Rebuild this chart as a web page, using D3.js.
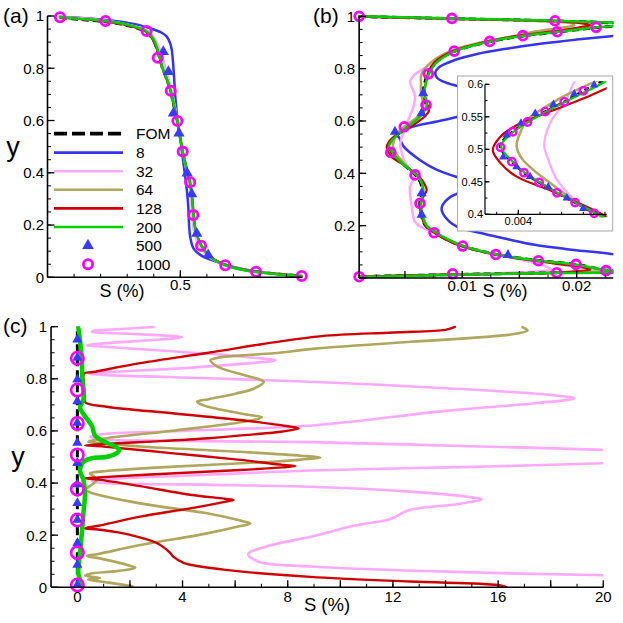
<!DOCTYPE html>
<html><head><meta charset="utf-8">
<script src="https://cdn.jsdelivr.net/npm/d3@7"></script>
<style>body{margin:0;background:#fff} svg{display:block} text{font-family:"Liberation Sans",Arial,sans-serif;fill:#000}</style>
</head><body><svg id="c" width="623" height="623"></svg>
<script>
// ---------- legend / series ----------
const seriesLabels = ["FOM","8","32","64","128","200","500","1000"];

// ---------- panel (a): [S (%), y] ----------
const aFOM = [[0.047,0.993],[0.120,0.986],[0.218,0.977],[0.300,0.963],[0.350,0.948],[0.373,0.938],[0.395,0.912],[0.410,0.878],[0.420,0.845],[0.432,0.800],[0.448,0.758],[0.462,0.714],[0.474,0.660],[0.488,0.598],[0.498,0.540],[0.508,0.481],[0.522,0.420],[0.535,0.364],[0.544,0.300],[0.549,0.238],[0.557,0.180],[0.578,0.121],[0.610,0.080],[0.670,0.047],[0.752,0.027],[0.862,0.014],[0.957,0.006]];
const a8 = [[0.047,0.997],[0.218,0.985],[0.330,0.969],[0.392,0.951],[0.430,0.936],[0.449,0.921],[0.462,0.895],[0.468,0.870],[0.472,0.830],[0.475,0.790],[0.478,0.740],[0.482,0.680],[0.490,0.600],[0.500,0.530],[0.510,0.450],[0.519,0.380],[0.526,0.320],[0.530,0.270],[0.533,0.200],[0.538,0.150],[0.550,0.110],[0.578,0.084],[0.640,0.058],[0.700,0.040],[0.800,0.020],[0.957,0.004]];
const a32 = [[0.047,0.996],[0.218,0.982],[0.330,0.960],[0.385,0.938],[0.408,0.905],[0.424,0.870],[0.436,0.830],[0.450,0.780],[0.465,0.725],[0.477,0.665],[0.490,0.600],[0.500,0.540],[0.509,0.481],[0.521,0.420],[0.533,0.364],[0.541,0.300],[0.545,0.238],[0.551,0.180],[0.569,0.124],[0.601,0.084],[0.662,0.049],[0.752,0.025],[0.862,0.012],[0.957,0.005]];
const a64 = [[0.047,0.995],[0.218,0.980],[0.300,0.966],[0.372,0.941],[0.396,0.913],[0.411,0.879],[0.421,0.845],[0.433,0.800],[0.449,0.758],[0.463,0.714],[0.475,0.660],[0.489,0.598],[0.499,0.540],[0.509,0.481],[0.523,0.420],[0.536,0.364],[0.545,0.300],[0.550,0.238],[0.558,0.180],[0.579,0.121],[0.611,0.080],[0.670,0.047],[0.752,0.026],[0.862,0.013],[0.957,0.005]];
const a128 = [[0.047,0.995],[0.218,0.979],[0.300,0.965],[0.371,0.940],[0.395,0.912],[0.410,0.878],[0.421,0.845],[0.433,0.800],[0.449,0.758],[0.463,0.714],[0.475,0.660],[0.489,0.598],[0.499,0.540],[0.509,0.481],[0.523,0.420],[0.536,0.364],[0.545,0.300],[0.550,0.238],[0.558,0.180],[0.580,0.121],[0.612,0.080],[0.671,0.047],[0.753,0.026],[0.862,0.013],[0.957,0.005]];
const a200 = [[0.047,0.996],[0.120,0.989],[0.218,0.981],[0.300,0.967],[0.350,0.952],[0.373,0.942],[0.397,0.915],[0.412,0.880],[0.422,0.845],[0.434,0.800],[0.450,0.758],[0.464,0.714],[0.476,0.660],[0.489,0.598],[0.499,0.540],[0.509,0.481],[0.523,0.420],[0.537,0.364],[0.545,0.300],[0.550,0.238],[0.558,0.180],[0.579,0.121],[0.611,0.080],[0.670,0.046],[0.752,0.025],[0.862,0.012],[0.957,0.005]];
const a500 = [[0.436,0.863],[0.455,0.787],[0.474,0.628],[0.495,0.551],[0.526,0.398],[0.543,0.319],[0.562,0.168],[0.605,0.085]];
const a1000 = [[0.047,0.995],[0.218,0.981],[0.373,0.943],[0.415,0.840],[0.464,0.714],[0.489,0.598],[0.509,0.481],[0.537,0.364],[0.549,0.238],[0.578,0.121],[0.669,0.046],[0.785,0.021],[0.957,0.005]];

// ---------- panel (b) + inset: [S (%), y] ----------
const bFOM = [[0.0010,0.999],[0.0091,0.991],[0.0181,0.982],[0.0250,0.969],[0.0217,0.957],[0.0183,0.940],[0.0153,0.925],[0.0124,0.903],[0.0093,0.866],[0.0077,0.825],[0.0070,0.780],[0.0067,0.740],[0.0066,0.706],[0.0068,0.661],[0.0065,0.630],[0.0059,0.604],[0.0055,0.590],[0.00506,0.573],[0.00462,0.558],[0.00421,0.542],[0.00387,0.527],[0.00358,0.505],[0.00385,0.481],[0.00413,0.464],[0.00448,0.449],[0.00489,0.433],[0.00531,0.418],[0.00575,0.402],[0.0061,0.385],[0.0064,0.360],[0.0065,0.330],[0.0063,0.285],[0.0064,0.245],[0.0068,0.200],[0.00757,0.176],[0.0084,0.153],[0.0100,0.123],[0.0129,0.091],[0.0166,0.067],[0.0199,0.052],[0.0226,0.030],[0.0250,0.024],[0.0182,0.020],[0.0092,0.013],[0.0010,0.005]];
const b8 = [[0.0010,0.999],[0.0091,0.991],[0.0181,0.982],[0.0260,0.970],[0.0300,0.950],[0.0232,0.925],[0.0200,0.911],[0.0170,0.896],[0.0140,0.877],[0.0113,0.856],[0.0093,0.832],[0.0080,0.806],[0.00765,0.785],[0.0078,0.765],[0.0083,0.751],[0.0089,0.742],[0.0096,0.733],[0.0118,0.700],[0.0118,0.640],[0.0096,0.616],[0.0078,0.598],[0.0063,0.585],[0.0050,0.568],[0.00435,0.556],[0.0042,0.551],[0.0045,0.536],[0.0049,0.502],[0.0063,0.451],[0.0078,0.413],[0.0096,0.385],[0.0118,0.360],[0.0118,0.335],[0.0096,0.323],[0.0085,0.292],[0.0082,0.266],[0.0085,0.234],[0.0095,0.197],[0.0118,0.170],[0.0140,0.148],[0.0162,0.128],[0.0190,0.111],[0.0232,0.091],[0.0300,0.050],[0.0260,0.024],[0.0182,0.020],[0.0092,0.013],[0.0010,0.005]];
const b32 = [[0.0010,0.999],[0.0091,0.991],[0.0181,0.982],[0.0250,0.969],[0.0217,0.957],[0.0183,0.940],[0.0153,0.925],[0.0124,0.904],[0.0093,0.867],[0.0077,0.826],[0.0066,0.800],[0.0058,0.775],[0.00544,0.748],[0.0057,0.720],[0.00588,0.693],[0.0058,0.665],[0.00559,0.636],[0.0053,0.605],[0.00508,0.573],[0.00477,0.545],[0.00462,0.519],[0.0046,0.503],[0.00469,0.484],[0.00485,0.458],[0.00508,0.437],[0.00535,0.419],[0.0057,0.400],[0.0058,0.385],[0.00544,0.349],[0.0055,0.300],[0.00559,0.272],[0.00588,0.215],[0.0066,0.190],[0.0075,0.175],[0.0084,0.152],[0.0100,0.121],[0.0130,0.089],[0.0155,0.066],[0.0172,0.046],[0.0178,0.033],[0.0165,0.025],[0.0092,0.014],[0.0010,0.005]];
const b64 = [[0.0010,0.999],[0.0090,0.991],[0.0175,0.981],[0.0196,0.972],[0.0198,0.966],[0.0188,0.957],[0.0165,0.943],[0.0150,0.928],[0.0122,0.906],[0.0090,0.868],[0.0073,0.825],[0.00646,0.782],[0.0064,0.740],[0.0064,0.706],[0.0066,0.661],[0.0063,0.630],[0.0060,0.612],[0.00556,0.598],[0.0050,0.580],[0.00455,0.562],[0.0042,0.545],[0.00404,0.525],[0.00396,0.505],[0.00408,0.486],[0.00435,0.468],[0.0047,0.450],[0.0050,0.435],[0.00535,0.418],[0.00578,0.402],[0.0062,0.385],[0.0065,0.360],[0.0066,0.330],[0.0064,0.285],[0.0065,0.245],[0.0069,0.200],[0.0077,0.175],[0.0086,0.150],[0.0102,0.121],[0.0130,0.090],[0.0166,0.065],[0.0199,0.050],[0.0220,0.034],[0.0224,0.028],[0.0210,0.023],[0.0182,0.020],[0.0092,0.013],[0.0010,0.005]];
const b128 = [[0.0010,0.999],[0.0091,0.991],[0.0180,0.981],[0.0206,0.972],[0.0212,0.966],[0.0204,0.959],[0.0182,0.944],[0.0152,0.928],[0.0123,0.905],[0.0092,0.867],[0.0076,0.825],[0.0070,0.780],[0.0068,0.740],[0.0067,0.706],[0.0069,0.670],[0.0071,0.640],[0.0068,0.620],[0.0063,0.602],[0.00604,0.594],[0.0055,0.578],[0.00473,0.558],[0.00396,0.537],[0.00358,0.519],[0.00341,0.499],[0.0036,0.478],[0.00396,0.458],[0.00473,0.437],[0.0053,0.420],[0.00593,0.400],[0.0063,0.385],[0.0067,0.360],[0.0069,0.336],[0.0066,0.310],[0.0063,0.285],[0.0064,0.245],[0.0068,0.200],[0.0075,0.176],[0.0083,0.153],[0.0099,0.122],[0.0128,0.090],[0.0163,0.066],[0.0193,0.048],[0.0209,0.037],[0.0212,0.032],[0.0200,0.026],[0.0182,0.020],[0.0092,0.013],[0.0010,0.005]];
const b200 = [[0.0010,1.000],[0.0091,0.992],[0.0181,0.983],[0.0250,0.970],[0.0218,0.958],[0.0184,0.941],[0.0154,0.926],[0.0125,0.904],[0.0094,0.867],[0.0078,0.825],[0.0071,0.780],[0.0068,0.740],[0.0067,0.706],[0.0069,0.661],[0.0066,0.630],[0.0060,0.604],[0.0056,0.590],[0.00508,0.573],[0.00464,0.558],[0.00423,0.542],[0.00389,0.527],[0.0036,0.505],[0.00387,0.481],[0.00415,0.464],[0.0045,0.449],[0.00491,0.433],[0.00533,0.418],[0.00577,0.402],[0.0062,0.385],[0.0065,0.360],[0.0066,0.330],[0.0064,0.285],[0.0065,0.245],[0.0069,0.200],[0.00765,0.176],[0.0085,0.153],[0.0101,0.122],[0.0130,0.090],[0.0167,0.066],[0.0200,0.051],[0.0227,0.029],[0.0250,0.023],[0.0182,0.019],[0.0092,0.012],[0.0010,0.004]];
const b500 = [[0.0066,0.706],[0.00646,0.629],[0.00413,0.559],[0.00646,0.324],[0.00646,0.241],[0.0140,0.088]];
const b1000 = [[0.0010,1.000],[0.0091,0.992],[0.0181,0.983],[0.0217,0.958],[0.0183,0.941],[0.0153,0.926],[0.0124,0.904],[0.0093,0.867],[0.00704,0.780],[0.00684,0.661],[0.00494,0.578],[0.00376,0.480],[0.00588,0.394],[0.00631,0.285],[0.00754,0.173],[0.01004,0.122],[0.01293,0.090],[0.01665,0.066],[0.01994,0.052],[0.02256,0.028],[0.01825,0.020],[0.00917,0.016],[0.0010,0.005]];
const inset500 = [[0.00575,0.599],[0.00529,0.585],[0.00481,0.569],[0.00439,0.555],[0.00406,0.540],[0.00373,0.522],[0.00365,0.488],[0.00396,0.473],[0.00427,0.458],[0.00469,0.442],[0.00512,0.425],[0.0055,0.409]];
const inset1000 = [[0.00575,0.4015],[0.00531,0.418],[0.00489,0.433],[0.00448,0.449],[0.00413,0.464],[0.00385,0.481],[0.00359,0.503],[0.00387,0.527],[0.00421,0.542],[0.00462,0.558],[0.00506,0.573],[0.0055,0.590]];

// ---------- panel (c): [S (%), y] ----------
const cFOM = [[0,0],[0,1]];
const c32 = [[2.90,0.999],[1.5,0.990],[0.6,0.984],[0.55,0.980],[1.5,0.975],[3.98,0.960],[3.0,0.950],[1.0,0.936],[0.36,0.929],[1.0,0.923],[4.99,0.896],[6.8,0.880],[7.53,0.871],[6.8,0.862],[3.72,0.839],[1.0,0.825],[0.42,0.820],[1.0,0.815],[5.0,0.802],[9.05,0.788],[14.0,0.764],[18.0,0.738],[18.9,0.725],[17.5,0.707],[14.0,0.677],[9.05,0.622],[4.0,0.600],[0.9,0.587],[0.5,0.578],[0.9,0.568],[4.0,0.562],[8.87,0.557],[15.0,0.541],[20.0,0.527],[23.0,0.510],[23.0,0.490],[20.0,0.476],[15.0,0.462],[8.87,0.448],[4.0,0.428],[0.9,0.414],[0.55,0.408],[0.9,0.401],[4.5,0.394],[8.87,0.386],[12.5,0.368],[15.0,0.345],[15.37,0.338],[14.5,0.320],[12.6,0.296],[11.9,0.262],[10.5,0.236],[8.87,0.194],[7.3,0.160],[6.5,0.128],[6.9,0.098],[8.87,0.080],[14.0,0.060],[20.0,0.046],[23.0,0.042]];
const c64 = [[16.93,0.998],[17.12,0.985],[16.48,0.970],[12.67,0.942],[9.05,0.916],[7.47,0.898],[6.26,0.890],[5.3,0.880],[5.06,0.871],[5.2,0.855],[5.5,0.839],[6.5,0.810],[7.09,0.788],[6.7,0.762],[6.01,0.743],[5.0,0.722],[4.55,0.712],[4.8,0.698],[5.25,0.686],[6.5,0.662],[7.02,0.653],[6.26,0.634],[3.72,0.602],[1.12,0.572],[0.42,0.558],[1.2,0.552],[2.39,0.540],[6.2,0.520],[8.5,0.505],[9.24,0.497],[8.5,0.490],[7.47,0.482],[3.66,0.463],[1.2,0.447],[0.48,0.437],[0.6,0.428],[0.74,0.412],[0.5,0.390],[0.3,0.375],[0.5,0.364],[2.39,0.322],[4.93,0.284],[6.2,0.256],[6.58,0.245],[6.2,0.235],[4.93,0.207],[2.39,0.162],[0.8,0.128],[0.36,0.120],[0.8,0.112],[2.0,0.083],[2.2,0.075],[1.5,0.062],[0.48,0.052],[0.3,0.045],[0.86,0.036],[0.4,0.030],[1.2,0.018],[2.1,0.004]];
const c128 = [[14.36,0.999],[14.0,0.988],[12.0,0.978],[9.3,0.964],[7.47,0.940],[4.99,0.900],[2.39,0.860],[0.6,0.826],[0.25,0.820],[0.25,0.780],[0.28,0.740],[0.3,0.710],[1.12,0.693],[3.7,0.667],[6.2,0.642],[8.0,0.618],[8.42,0.610],[7.8,0.598],[6.5,0.585],[4.99,0.572],[3.0,0.560],[1.0,0.550],[0.3,0.545],[1.0,0.540],[3.66,0.514],[6.2,0.489],[7.8,0.470],[8.29,0.465],[7.8,0.460],[6.2,0.450],[2.39,0.431],[0.8,0.422],[0.29,0.418],[0.8,0.413],[2.39,0.388],[4.29,0.355],[5.6,0.340],[5.94,0.335],[5.6,0.328],[4.29,0.303],[2.39,0.271],[0.8,0.236],[0.29,0.226],[0.8,0.222],[1.75,0.207],[3.02,0.170],[3.5,0.135],[3.66,0.117],[4.04,0.094],[5.56,0.068],[8.86,0.040],[12.67,0.022],[15.98,0.009],[16.3,0.002]];
const c200 = [[0.04,0.994],[0.1,0.949],[0.17,0.872],[0.19,0.795],[0.23,0.719],[0.1,0.690],[0.23,0.665],[0.55,0.620],[0.67,0.583],[1.0,0.560],[1.45,0.540],[1.6,0.527],[1.45,0.512],[1.1,0.500],[0.55,0.495],[0.23,0.482],[0.1,0.450],[0.23,0.412],[0.29,0.361],[0.23,0.284],[0.17,0.207],[0.1,0.130],[0.04,0.054],[0.17,0.009]];
const c500 = [[0,0.009],[0,0.086],[0,0.169],[0,0.259],[0,0.323],[0,0.395],[0,0.477],[0,0.554],[0,0.631],[0,0.714],[0,0.797],[0,0.881],[0,0.951]];
const c1000 = [[0,0.009],[0,0.133],[0,0.258],[0,0.377],[0,0.508],[0,0.629],[0,0.757],[0,0.879]];

// ---------- styles ----------
const col = {"FOM":"#000000","8":"#3535f0","32":"#ffa8ff","64":"#b0a65c","128":"#d00000","200":"#00d000","500":"#3a3aff","1000":"#ff00ff"};

const svg = d3.select("#c");
let clipId = 0;

function makePanel(x, y, opt){
  const g = svg.append("g");
  const id = "clip" + (clipId++);
  const [x0,x1] = x.range(), [yb,yt] = y.range();
  svg.append("clipPath").attr("id", id).append("rect")
    .attr("x", x0 - (opt.clipL||0)).attr("y", yt - 3).attr("width", x1 - x0 + (opt.clipL||0)).attr("height", yb - yt + 6);
  const lines = g.append("g").attr("clip-path", `url(#${id})`);
  return {g, lines};
}

function drawAxes(g, x, y, o){
  const [x0,x1] = x.range(), [yb,yt] = y.range();
  const ax = g.append("g").attr("stroke","#000").attr("stroke-width", o.aw||1.6).attr("fill","none");
  ax.append("line").attr("x1",x0).attr("x2",x0).attr("y1",yb).attr("y2",yt);
  ax.append("line").attr("x1",x0).attr("x2",x1).attr("y1",yb).attr("y2",yb);
  o.yMinor.forEach(v=>ax.append("line").attr("x1",x0).attr("x2",x0+(o.minL||3.5)).attr("y1",y(v)).attr("y2",y(v)).attr("stroke-width",1));
  o.yMajor.forEach(v=>ax.append("line").attr("x1",x0).attr("x2",x0+(o.majL||7)).attr("y1",y(v)).attr("y2",y(v)).attr("stroke-width",1.3));
  o.xMinor.forEach(v=>ax.append("line").attr("y1",yb).attr("y2",yb-(o.minL||3.5)).attr("x1",x(v)).attr("x2",x(v)).attr("stroke-width",1));
  o.xMajor.forEach(v=>ax.append("line").attr("y1",yb).attr("y2",yb-(o.majL||7)).attr("x1",x(v)).attr("x2",x(v)).attr("stroke-width",1.3));
  const fs = o.fs || 15;
  o.yLabels.forEach(([v,t])=>g.append("text").attr("x",o.yLabX).attr("y",y(v)).attr("dy","0.36em").attr("text-anchor","end").attr("font-size",fs).text(t));
  o.xLabels.forEach(([v,t])=>g.append("text").attr("x",x(v)).attr("y",o.xLabY).attr("text-anchor","middle").attr("font-size",fs).text(t));
}

const curve = d3.curveCatmullRom.alpha(0.5);
function drawLine(parent, x, y, data, key, w, extra){
  const line = d3.line().x(d=>x(d[0])).y(d=>y(d[1])).curve(curve);
  const p = parent.append("path").datum(data).attr("d", line).attr("fill","none")
    .attr("stroke", col[key]).attr("stroke-width", w).attr("stroke-linejoin","round").attr("stroke-linecap","round");
  if (key === "FOM") p.attr("stroke-dasharray", (extra && extra.dash) || "7,4").attr("stroke-linecap","butt");
  return p;
}
function drawTri(parent, x, y, data, size){
  parent.selectAll(null).data(data).enter().append("path")
    .attr("d", d3.symbol(d3.symbolTriangle, size)())
    .attr("transform", d=>`translate(${x(d[0])},${y(d[1])})`).attr("fill", col["500"]);
}
function drawCirc(parent, x, y, data, r, w){
  parent.selectAll(null).data(data).enter().append("circle")
    .attr("cx", d=>x(d[0])).attr("cy", d=>y(d[1])).attr("r", r)
    .attr("fill","none").attr("stroke", col["1000"]).attr("stroke-width", w);
}

// ================= Panel (a) =================
{
  const x = d3.scaleLinear().domain([0,0.96]).range([47.5,302.5]);
  const y = d3.scaleLinear().domain([0,1]).range([277.3,16]);
  const P = makePanel(x,y,{});
  drawLine(P.lines,x,y,aFOM,"FOM",2.5);
  drawLine(P.lines,x,y,a8,"8",2.5);
  drawLine(P.lines,x,y,a32,"32",2.5);
  drawLine(P.lines,x,y,a64,"64",2.5);
  drawLine(P.lines,x,y,a128,"128",2.2);
  drawLine(P.lines,x,y,a200,"200",2.5);
  drawTri(P.g,x,y,a500,55);
  drawCirc(P.g,x,y,a1000,4.6,2.8);
  drawAxes(P.g,x,y,{
    yMinor:d3.range(0,1.001,0.05), yMajor:d3.range(0,1.001,0.2),
    xMinor:d3.range(0.1,0.96,0.1), xMajor:[0.5],
    yLabels:[[0,"0"],[0.2,"0.2"],[0.4,"0.4"],[0.6,"0.6"],[0.8,"0.8"],[1,"1"]], yLabX:44,
    xLabels:[[0.5,"0.5"]], xLabY:290
  });
  // legend
  const lg = P.g.append("g");
  const rows = [133.7,152.6,171.2,189.8,208.4,227.0,245.6,264.2];
  seriesLabels.forEach((k,i)=>{
    const yy = rows[i];
    if (k==="500") lg.append("path").attr("d",d3.symbol(d3.symbolTriangle,60)()).attr("transform",`translate(88,${yy})`).attr("fill",col[k]);
    else if (k==="1000") lg.append("circle").attr("cx",88).attr("cy",yy).attr("r",4.6).attr("fill","none").attr("stroke",col[k]).attr("stroke-width",2.8);
    else {
      const l = lg.append("line").attr("x1",54).attr("x2",123).attr("y1",yy).attr("y2",yy).attr("stroke",col[k]).attr("stroke-width",k==="FOM"?3.8:2.6);
      if (k==="FOM") l.attr("stroke-dasharray","13,5");
    }
    lg.append("text").attr("x",136).attr("y",yy).attr("dy","0.36em").attr("font-size",15.5).text(k);
  });
  P.g.append("text").attr("x",122).attr("y",297).attr("text-anchor","middle").attr("font-size",18).text("S (%)");
  P.g.append("text").attr("x",13).attr("y",156).attr("text-anchor","middle").attr("font-size",27).text("y");
  P.g.append("text").attr("x",3).attr("y",23).attr("font-size",21).text("(a)");
}

// ================= Panel (b) =================
{
  const x = d3.scaleLinear().domain([0.001,0.0232]).range([359.15,613.3]);
  const y = d3.scaleLinear().domain([0,1]).range([278,16.3]);
  const P = makePanel(x,y,{clipL:2});
  drawLine(P.lines,x,y,b8,"8",2.5);
  drawLine(P.lines,x,y,b32,"32",2.5);
  drawLine(P.lines,x,y,bFOM,"FOM",3);
  drawLine(P.lines,x,y,b64,"64",2.5);
  drawLine(P.lines,x,y,b128,"128",2.2);
  drawLine(P.lines,x,y,b200,"200",2.5);
  drawTri(P.g,x,y,b500,45);
  drawCirc(P.g,x,y,b1000,4.4,2.8);
  drawAxes(P.g,x,y,{
    yMinor:d3.range(0,1.001,0.05), yMajor:d3.range(0,1.001,0.2),
    xMinor:d3.range(0.0025,0.0232,0.0025), xMajor:[0.005,0.01,0.015,0.02],
    yLabels:[[0.2,"0.2"],[0.4,"0.4"],[0.6,"0.6"],[0.8,"0.8"],[1,"1"]], yLabX:355,
    xLabels:[[0.01,"0.01"],[0.02,"0.02"]], xLabY:291
  });
  P.g.append("text").attr("x",505).attr("y",297).attr("text-anchor","middle").attr("font-size",18).text("S (%)");
  P.g.append("text").attr("x",313).attr("y",23).attr("font-size",21).text("(b)");

  // inset
  const ig = svg.append("g");
  ig.append("rect").attr("x",457.5).attr("y",76).attr("width",155.2).attr("height",155).attr("fill","#fff").attr("stroke","#aaa").attr("stroke-width",1);
  const xi = d3.scaleLinear().domain([0.00323,0.00604]).range([485,606.7]);
  const yi = d3.scaleLinear().domain([0.4,0.6]).range([214.3,84.3]);
  const I = makePanel(xi,yi,{});
  drawLine(I.lines,xi,yi,b32,"32",2.2);
  drawLine(I.lines,xi,yi,bFOM,"FOM",2.6,{dash:"5,3"});
  drawLine(I.lines,xi,yi,b64,"64",2.5);
  drawLine(I.lines,xi,yi,b128,"128",2.2);
  drawLine(I.lines,xi,yi,b200,"200",2.2);
  drawTri(I.g,xi,yi,inset500,32);
  drawCirc(I.g,xi,yi,inset1000,3.7,2.4);
  drawAxes(I.g,xi,yi,{
    aw:1.2, minL:2.5, majL:4.5, fs:11,
    yMinor:d3.range(0.4,0.6001,0.025), yMajor:d3.range(0.4,0.6001,0.05),
    xMinor:d3.range(0.0035,0.00604,0.0005), xMajor:[0.004],
    yLabels:[[0.4,"0.4"],[0.45,"0.45"],[0.5,"0.5"],[0.55,"0.55"],[0.6,"0.6"]], yLabX:483,
    xLabels:[[0.004,"0.004"]], xLabY:225
  });
}

// ================= Panel (c) =================
{
  const x = d3.scaleLinear().domain([-1,20]).range([51.05,603.3]);
  const y = d3.scaleLinear().domain([0,1]).range([587.3,326.7]);
  const P = makePanel(x,y,{});
  drawLine(P.lines,x,y,cFOM,"FOM",3,{dash:"9,4"});
  drawLine(P.lines,x,y,c32,"32",2.6);
  drawLine(P.lines,x,y,c64,"64",2.6);
  drawLine(P.lines,x,y,c128,"128",2.4);
  drawLine(P.lines,x,y,c200,"200",4.5);
  drawTri(P.g,x,y,c500,45);
  drawCirc(P.g,x,y,c1000,6.2,2.6);
  drawAxes(P.g,x,y,{
    yMinor:d3.range(0,1.001,0.05), yMajor:d3.range(0,1.001,0.2),
    xMinor:d3.range(1,20.01,1), xMajor:d3.range(2,20.01,2),
    yLabels:[[0,"0"],[0.2,"0.2"],[0.4,"0.4"],[0.6,"0.6"],[0.8,"0.8"],[1,"1"]], yLabX:47,
    xLabels:[[0,"0"],[4,"4"],[8,"8"],[12,"12"],[16,"16"],[20,"20"]], xLabY:602
  });
  P.g.append("text").attr("x",327).attr("y",611).attr("text-anchor","middle").attr("font-size",18.5).text("S (%)");
  P.g.append("text").attr("x",18).attr("y",466).attr("text-anchor","middle").attr("font-size",27).text("y");
  P.g.append("text").attr("x",3).attr("y",333).attr("font-size",21).text("(c)");
}
</script></body></html>
